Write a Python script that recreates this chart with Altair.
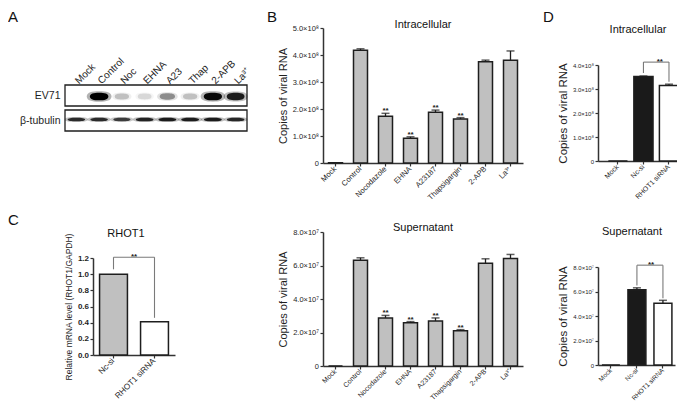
import json
import altair as alt
import pandas as pd

FONT = "Liberation Sans"
W, H = 669, 395
INK = "#1e1e1e"
AX = "#333333"
GRAY_BAR = "#c0c0c0"
BRACKET = "#7a7a7a"

# ---------------- data ----------------
# A: western blot (relative band darkness)
lanes = ["Mock", "Control", "Noc", "EHNA", "A23", "Thap", "2-APB", "La³⁺"]
blot_rows = ["EV71", "β-tubulin"]
ev71_level = [0.0, 1.0, 0.2, 0.12, 0.38, 0.2, 0.95, 0.85]
tubulin_level = [0.78, 0.78, 0.7, 0.82, 0.85, 0.85, 0.85, 0.8]

# B: copies of viral RNA
b_groups = ["Mock", "Control", "Nocodazole", "EHNA", "A23187", "Thapsigargin", "2-APB", "La³⁺"]
b_intra = [0.01e8, 4.18e8, 1.73e8, 0.92e8, 1.88e8, 1.63e8, 3.75e8, 3.81e8]
b_intra_err = [0.0, 0.05e8, 0.11e8, 0.05e8, 0.08e8, 0.05e8, 0.06e8, 0.34e8]
b_super = [0.0, 6.32e7, 2.87e7, 2.58e7, 2.69e7, 2.10e7, 6.13e7, 6.42e7]
b_super_err = [0.0, 0.14e7, 0.15e7, 0.07e7, 0.18e7, 0.07e7, 0.27e7, 0.24e7]
b_sig = ["", "", "**", "**", "**", "**", "", ""]

# C: relative mRNA level
c_groups = ["Nc-si", "RHOT1 siRNA"]
c_level = [1.0, 0.41]
c_bracket = [1.21, 1.06, 0.46]  # top, left leg end, right leg end

# D: copies of viral RNA after knock-down
d_groups = ["Mock", "Nc-si", "RHOT1 siRNA"]
d_intra = [0.0, 3.52e8, 3.15e8]
d_intra_err = [0.0, 0.02e8, 0.05e8]
d_intra_bracket = [4.12e8, 3.67e8, 3.30e8]
d_super = [0.0, 6.15e7, 5.04e7]
d_super_err = [0.0, 0.15e7, 0.24e7]
d_super_bracket = [8.15e7, 6.5e7, 5.45e7]


def ax(**kw):
    base = dict(grid=False, domainColor=AX, domainWidth=1.5, tickColor=AX, tickWidth=1.2,
                tickSize=3, labelFont=FONT, labelColor=INK, titleFont=FONT, titleColor=INK,
                titleFontWeight="normal", labelOverlap=False)
    base.update(kw)
    return alt.Axis(**base)


def bar_panel(groups, vals, errs, fills, xr, yr, ydom, yvals, yexpr, ytitle,
              pin, pout, align=0.5, ytitle_size=11, ylabel_size=7.5, ylabel_bold=False,
              ytitle_pad=4, xlabel_size=7, xlabel_bold=False, xlabel_pad=1.5, cap=8, sig=None,
              bracket=None, star_size=8):
    n = len(groups)
    df = pd.DataFrame({"g": groups, "v": vals, "e": errs, "f": fills})
    df["top"] = df["v"] + df["e"]
    df["sig"] = sig if sig else [""] * n
    xs = alt.Scale(domain=groups, range=xr, paddingInner=pin, paddingOuter=pout, align=align)
    ys = alt.Scale(domain=ydom, range=yr, nice=False, zero=True)
    xaxis = ax(orient="bottom", offset=yr[0] - H, title=None, labelAngle=-45,
               labelAlign="right", labelBaseline="middle", labelFontSize=xlabel_size,
               labelFontWeight="bold" if xlabel_bold else "normal", labelPadding=xlabel_pad)
    yaxis = ax(orient="left", offset=-xr[0], values=yvals, labelExpr=yexpr, title=ytitle,
               titleFontSize=ytitle_size, titlePadding=ytitle_pad, labelFontSize=ylabel_size,
               labelFontWeight="bold" if ylabel_bold else "normal", labelPadding=1.5)
    Xn = alt.X("g:N", scale=xs, axis=None)
    Yn = alt.Y("v:Q", scale=ys, axis=None)
    bars = alt.Chart(df).mark_bar(stroke=INK, strokeWidth=1.5).encode(
        x=alt.X("g:N", scale=xs, axis=xaxis), y=alt.Y("v:Q", scale=ys, axis=yaxis),
        fill=alt.Fill("f:N", scale=None))
    edf = df[df["e"] > 0]
    rule = alt.Chart(edf).mark_rule(color=INK, strokeWidth=1.3).encode(
        x=Xn, y=Yn, y2="top:Q")
    caps = alt.Chart(edf).mark_tick(orient="horizontal", size=cap, thickness=1.5,
                                    color=INK).encode(x=Xn, y=alt.Y("top:Q", scale=ys, axis=None))
    layers = [bars, rule, caps]
    if sig:
        sdf = df[df["sig"] != ""]
        layers.append(alt.Chart(sdf).mark_text(font=FONT, fontSize=star_size, fontWeight="bold",
                                               color=INK, baseline="alphabetic", dy=0).encode(
            x=Xn, y=alt.Y("top:Q", scale=ys, axis=None), text="sig:N"))
    if bracket:
        i, j, vals_b = bracket
        step = (xr[1] - xr[0]) / (n - pin + 2 * pout)
        bdf = pd.DataFrame({"c1": [groups[i]], "c2": [groups[j]], "t": [vals_b[0]],
                            "l": [vals_b[1]], "r": [vals_b[2]], "s": ["**"]})
        B1 = alt.X("c1:N", scale=xs, axis=None)
        B2 = alt.X("c2:N", scale=xs, axis=None)
        Yt = alt.Y("t:Q", scale=ys, axis=None)
        layers += [
            alt.Chart(bdf).mark_rule(color=BRACKET, strokeWidth=1.1).encode(
                x=B1, x2=alt.X2("c2:N"), y=Yt),
            alt.Chart(bdf).mark_rule(color=BRACKET, strokeWidth=1.1).encode(
                x=B1, y=Yt, y2=alt.Y2("l:Q")),
            alt.Chart(bdf).mark_rule(color=BRACKET, strokeWidth=1.1).encode(
                x=B2, y=Yt, y2=alt.Y2("r:Q")),
            alt.Chart(bdf).mark_text(font=FONT, fontSize=star_size, fontWeight="bold", color=INK,
                                     baseline="alphabetic", dy=2, dx=(j - i) * step / 2).encode(
                x=B1, y=Yt, text="s:N"),
        ]
    return layers


def sci(exp, sup):
    return f"datum.value == 0 ? '0' : format(datum.value / 1e{exp}, '.1f') + '×10{sup}'"


# ---------------- panel A ----------------
EV_PATH = "M -1 0 C -1 -0.32 -0.6 -0.42 0 -0.42 C 0.6 -0.42 1 -0.32 1 0 C 1 0.32 0.6 0.42 0 0.42 C -0.6 0.42 -1 0.32 -1 0 Z"
TUB_PATH = "M -1 0 C -1 -0.16 -0.6 -0.21 0 -0.21 C 0.6 -0.21 1 -0.16 1 0 C 1 0.16 0.6 0.21 0 0.21 C -0.6 0.21 -1 0.16 -1 0 Z"
recs = []
for i, lane in enumerate(lanes):
    recs.append({"lane": lane, "pos": i + 0.5, "row": blot_rows[0], "lvl": ev71_level[i]})
    recs.append({"lane": lane, "pos": i + 0.5, "row": blot_rows[1], "lvl": tubulin_level[i]})
blot_df = pd.DataFrame(recs)
frame_df = pd.DataFrame({"row": blot_rows, "x0": [0, 0], "x1": [len(lanes), len(lanes)]})
bx = alt.Scale(domain=[0, len(lanes)], range=[57, 239], zero=False, nice=False)
by = alt.Scale(domain=blot_rows, range=[77, 123], paddingInner=0.16, paddingOuter=0)
shape_scale = alt.Scale(domain=blot_rows, range=[EV_PATH, TUB_PATH])
lane_expr = f"{json.dumps(lanes, ensure_ascii=False)}[floor(datum.value)]"

frames = alt.Chart(frame_df).mark_rect(fill="white", stroke=INK, strokeWidth=1.3).encode(
    x=alt.X("x0:Q", scale=bx,
            axis=alt.Axis(orient="top", offset=-77, values=[i + 0.5 for i in range(len(lanes))],
                          labelExpr=lane_expr, labelAngle=-45, labelAlign="left",
                          labelBaseline="middle", labelFont=FONT, labelFontSize=10,
                          labelColor=INK, labelPadding=3, domain=False, ticks=False,
                          grid=False, title=None, labelOverlap=False)),
    x2="x1:Q",
    y=alt.Y("row:N", scale=by, axis=alt.Axis(orient="left", offset=-57, domain=False, ticks=False,
                                             labelFont=FONT, labelFontSize=10.5, labelColor=INK,
                                             labelPadding=5, title=None, grid=False)))
halo = alt.Chart(blot_df).transform_calculate(
    op="0.3 * datum.lvl", sz="1.8 * (170 + 170 * datum.lvl)").mark_point(
    filled=True, color="black", strokeWidth=0).encode(
    x=alt.X("pos:Q", scale=bx, axis=None), y=alt.Y("row:N", scale=by, axis=None),
    shape=alt.Shape("row:N", scale=shape_scale, legend=None),
    opacity=alt.Opacity("op:Q", scale=None), size=alt.Size("sz:Q", scale=None))
bands = alt.Chart(blot_df).transform_calculate(sz="170 + 170 * datum.lvl").mark_point(
    filled=True, color="black", strokeWidth=0).encode(
    x=alt.X("pos:Q", scale=bx, axis=None), y=alt.Y("row:N", scale=by, axis=None),
    shape=alt.Shape("row:N", scale=shape_scale, legend=None),
    opacity=alt.Opacity("lvl:Q", scale=None), size=alt.Size("sz:Q", scale=None))
panel_a = [frames, halo, bands]

# ---------------- panels B ----------------
panel_b1 = bar_panel(b_groups, b_intra, b_intra_err, [GRAY_BAR] * 8, [315, 515], [155, 20],
                     [0, 5e8], [0, 1e8, 2e8, 3e8, 4e8, 5e8], sci(8, "⁸"), "Copies of viral RNA",
                     0.44, 0.22, sig=b_sig, xlabel_size=7.6)
panel_b2 = bar_panel(b_groups, b_super, b_super_err, [GRAY_BAR] * 8, [315, 515], [358, 224],
                     [0, 8e7], [0, 2e7, 4e7, 6e7, 8e7], sci(7, "⁷"), "Copies of viral RNA",
                     0.44, 0.22, sig=b_sig, xlabel_size=7, xlabel_pad=1)

# ---------------- panel C ----------------
panel_c = bar_panel(c_groups, c_level, [0, 0], [GRAY_BAR, "white"], [85, 167], [347, 250],
                    [0, 1.2], [0, 0.2, 0.4, 0.6, 0.8, 1.0, 1.2], "format(datum.value, '.1f')",
                    "Relative mRNA level (RHOT1/GAPDH)", 0.32, 0.16, ytitle_size=8.5,
                    ylabel_size=8, ylabel_bold=True, xlabel_size=8.2,
                    bracket=(0, 1, c_bracket))

# ---------------- panels D ----------------
panel_d1 = bar_panel(d_groups, d_intra, d_intra_err, ["white", "#1a1a1a", "white"], [590, 674],
                     [153, 57], [0, 4e8], [0, 1e8, 2e8, 3e8, 4e8], sci(8, "⁸"),
                     "Copies of viral RNA", 0.25, 0.27, align=0.75, ytitle_size=11.5,
                     ylabel_size=6, xlabel_size=7, bracket=(1, 2, d_intra_bracket))
panel_d2 = bar_panel(d_groups, d_super, d_super_err, ["white", "#1a1a1a", "white"], [590, 667],
                     [357, 259], [0, 8e7], [0, 2e7, 4e7, 6e7, 8e7], sci(7, "⁷"),
                     "Copies of viral RNA", 0.31, 0.135, align=0.56, ytitle_size=11.5,
                     ylabel_size=6, xlabel_size=6.5, xlabel_pad=1,
                     bracket=(1, 2, d_super_bracket))


# ---------------- annotations ----------------
def note(text, x, y, size, weight="normal", align="center"):
    return alt.Chart(pd.DataFrame({"t": [text]})).mark_text(
        font=FONT, fontSize=size, fontWeight=weight, align=align, baseline="alphabetic",
        color="#111").encode(text="t:N", x=alt.value(x), y=alt.value(y))


notes = [
    note("A", 0, 14, 15, align="left"),
    note("B", 259, 14, 15, align="left"),
    note("C", 0, 217, 15, align="left"),
    note("D", 535, 14, 15, align="left"),
    note("Intracellular", 415, 20, 11),
    note("Supernatant", 415, 223, 11),
    note("RHOT1", 118, 229, 11),
    note("Intracellular", 630, 25, 11),
    note("Supernatant", 624, 227, 11),
]

units = panel_a + panel_b1 + panel_b2 + panel_c + panel_d1 + panel_d2 + notes
chart = alt.layer(*units).resolve_scale(
    x="independent", y="independent").resolve_axis(x="independent", y="independent").properties(
    width=W, height=H, autosize=alt.AutoSizeParams(type="none"), padding=0,
    background="white").configure_view(stroke=None)

chart.save("out.html", embed_options={"renderer": "svg", "actions": False})
